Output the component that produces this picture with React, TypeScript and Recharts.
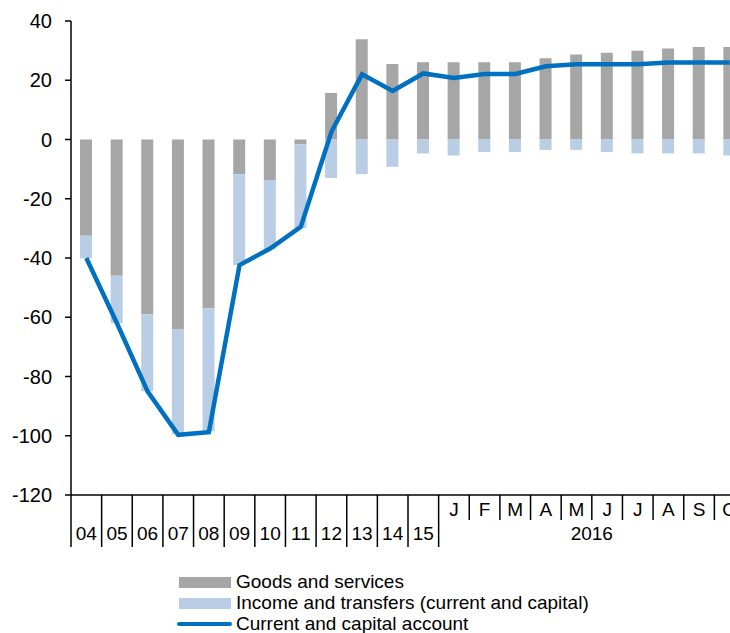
import React from 'react';
import { ComposedChart, Bar, Line, XAxis, YAxis, Legend } from 'recharts';

// ---------- data ----------
const categories = ['04', '05', '06', '07', '08', '09', '10', '11', '12', '13', '14', '15',
  'J', 'F', 'M', 'A', 'M', 'J', 'J', 'A', 'S', 'O'];
const monthGroupLabel = '2016';
const firstMonthIndex = 12;

const goodsAndServices = [-32.5, -46, -59, -64, -57, -11.7, -13.7, -1.6, 15.7, 33.8, 25.5, 26.1,
  26.1, 26.1, 26.1, 27.4, 28.7, 29.3, 30.0, 30.7, 31.2, 31.2];
const incomeAndTransfers = [-7.6, -16, -26, -35.5, -41.5, -30.7, -23.3, -28.3, -13, -11.7, -9.2, -4.7,
  -5.4, -4.2, -4.2, -3.5, -3.5, -4.2, -4.7, -4.7, -4.7, -5.4];
const currentAndCapital = [-40, -62, -85, -99.7, -98.8, -42.4, -36.8, -29.5, 2.6, 22, 16.4, 22.3,
  20.8, 22.1, 22.1, 24.7, 25.4, 25.4, 25.4, 26, 26, 26];

const yTicks = [-120, -100, -80, -60, -40, -20, 0, 20, 40];
const seriesNames = ['Goods and services', 'Income and transfers (current and capital)', 'Current and capital account'];

const data = categories.map((label, i) => ({
  idx: i,
  label,
  goods: goodsAndServices[i],
  income: incomeAndTransfers[i],
  account: currentAndCapital[i],
}));

// ---------- layout / style ----------
const FONT = '"Liberation Sans", Arial, sans-serif';
const CHART_W = 750;
const CHART_H = 633;
const MARGIN = { top: 21, right: 5, bottom: 0, left: 0 };
const Y_AXIS_W = 71;
const X_AXIS_H = 52;
const LEGEND_H = 86;
const BAND = (CHART_W - MARGIN.left - MARGIN.right - Y_AXIS_W) / categories.length;
const GRAY = '#A6A6A6';
const LIGHT_BLUE = '#B9CDE5';
const LINE_BLUE = '#0070C0';

function XTick(props: any) {
  const { x, y, payload } = props;
  const i = Number(payload.value);
  const left = x - BAND / 2;
  const isMonth = i >= firstMonthIndex;
  const longSep = !isMonth || i === firstMonthIndex;
  return (
    <g>
      <line x1={left} x2={left} y1={y} y2={y + (longSep ? 52 : 25)} stroke="#000" strokeWidth={1.5} />
      <text x={x} y={isMonth ? y + 21 : y + 45} textAnchor="middle" fontFamily={FONT} fontSize={19} fill="#000">
        {categories[i]}
      </text>
      {i === firstMonthIndex && (
        <text x={left + (BAND * (categories.length - firstMonthIndex)) / 2} y={y + 45} textAnchor="middle"
          fontFamily={FONT} fontSize={19} fill="#000">
          {monthGroupLabel}
        </text>
      )}
    </g>
  );
}

function LegendContent(props: any) {
  const payload = [...(props.payload || [])].sort(
    (a: any, b: any) => seriesNames.indexOf(a.value) - seriesNames.indexOf(b.value)
  );
  const centers = [35, 56, 77];
  return (
    <div style={{ position: 'relative', width: CHART_W, height: LEGEND_H, fontFamily: FONT, fontSize: 19, color: '#000' }}>
      {payload.map((entry: any, k: number) => {
        const c = centers[k];
        const isLine = entry.type === 'line';
        return (
          <div key={k}>
            {isLine ? (
              <div style={{ position: 'absolute', left: 177, top: c - 2.25, width: 55, height: 4.5, borderRadius: 2.25, background: entry.color }} />
            ) : (
              <div style={{ position: 'absolute', left: 179, top: c - 5.5, width: 52, height: 11, background: entry.color }} />
            )}
            <div style={{ position: 'absolute', left: 236, top: c - 11, height: 22, lineHeight: '22px', whiteSpace: 'nowrap' }}>
              {entry.value}
            </div>
          </div>
        );
      })}
    </div>
  );
}

export default function App() {
  return (
    <div style={{ position: 'absolute', left: 0, top: 0, width: 730, height: 633, overflow: 'hidden', background: '#fff' }}>
      <ComposedChart width={CHART_W} height={CHART_H} data={data} margin={MARGIN} stackOffset="sign" barCategoryGap={0}>
        <XAxis
          dataKey="idx"
          type="category"
          interval={0}
          height={X_AXIS_H}
          tickSize={0}
          tickMargin={0}
          tickLine={false}
          axisLine={{ stroke: '#000', strokeWidth: 1.5 }}
          tick={<XTick />}
        />
        <YAxis
          type="number"
          domain={[-120, 40]}
          ticks={yTicks}
          interval={0}
          width={Y_AXIS_W}
          tickSize={6}
          tickMargin={13}
          axisLine={{ stroke: '#000', strokeWidth: 1.5 }}
          tickLine={{ stroke: '#000', strokeWidth: 1.5 }}
          tick={{ fontFamily: FONT, fontSize: 20, fill: '#000' }}
        />
        <Legend
          verticalAlign="bottom"
          itemSorter={null as any}
          content={<LegendContent />}
          wrapperStyle={{ left: 0, bottom: 0, width: CHART_W, height: LEGEND_H }}
        />
        <Bar dataKey="goods" name={seriesNames[0]} stackId="s" fill={GRAY} barSize={12} isAnimationActive={false} legendType="rect" />
        <Bar dataKey="income" name={seriesNames[1]} stackId="s" fill={LIGHT_BLUE} barSize={12} isAnimationActive={false} legendType="rect" />
        <Line dataKey="account" name={seriesNames[2]} type="linear" stroke={LINE_BLUE} strokeWidth={4.5} dot={false}
          activeDot={false} isAnimationActive={false} legendType="line" />
      </ComposedChart>
    </div>
  );
}
